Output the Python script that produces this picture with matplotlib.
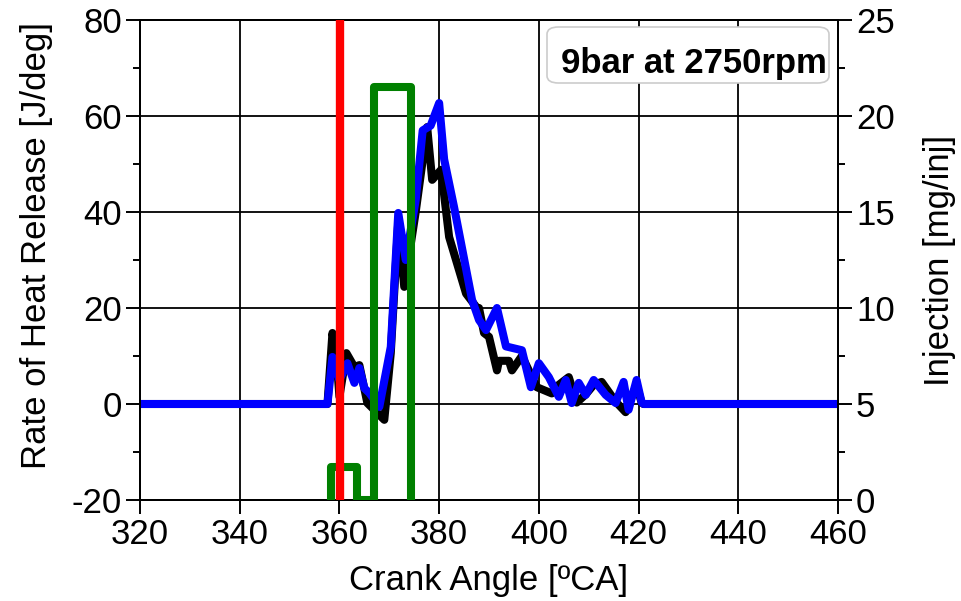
import matplotlib
matplotlib.use("Agg")
import matplotlib.pyplot as plt
from matplotlib.ticker import MultipleLocator
from matplotlib.patches import FancyBboxPatch

plt.rcParams['font.family'] = ['Liberation Sans', 'DejaVu Sans']
plt.rcParams['axes.unicode_minus'] = False

# Rate of heat release - black series (CA, J/deg)
ca_black = [320, 357.6, 358.6, 359.4, 360.0, 361.4, 363.0, 364.0, 365.6, 369.0, 370.3,
            371.8, 373.0, 375.3, 377.6, 378.6, 380.4, 382.0, 385.4, 387.6, 388.0, 389.0,
            390.0, 391.6, 392.0, 394.0, 394.6, 396.6, 399.6, 402.6, 404.0, 406.0, 407.6,
            409.4, 411.0, 412.6, 415.4, 417.4, 419.6, 420.6, 421.0, 460]
rhr_black = [0, 0, 14.8, 9.8, 1.5, 10.6, 7.7, 8.1, 0.2, -3.3, 10.6,
             38.0, 24.4, 40.0, 57.7, 46.7, 48.8, 34.8, 23.0, 20.0, 20.0, 14.8,
             14.0, 7.0, 9.0, 9.0, 7.0, 10.0, 3.5, 2.2, 4.0, 5.6, 0.3,
             2.0, 4.0, 4.6, 0.5, -1.7, 4.0, 0.3, 0, 0]

# Rate of heat release - blue series (CA, J/deg)
ca_blue = [320, 357.6, 358.6, 360.0, 361.6, 363.0, 364.0, 365.0, 366.0, 368.0, 370.3,
           371.8, 373.3, 375.3, 376.7, 378.3, 380.0, 381.0, 383.0, 386.6, 388.0, 389.4,
           391.6, 393.4, 396.6, 398.4, 400.0, 402.0, 404.0, 405.4, 406.6, 408.0, 409.4,
           411.0, 413.4, 415.4, 417.0, 418.0, 419.6, 420.6, 421.0, 460]
rhr_blue = [0, 0, 9.8, 5.0, 8.5, 4.4, 7.5, 3.3, 2.3, -0.6, 11.9,
            39.8, 30.0, 42.5, 57.0, 58.0, 62.7, 51.0, 41.0, 21.7, 17.5, 15.4,
            20.0, 12.0, 11.2, 3.5, 8.5, 5.6, 1.5, 5.0, 0.2, 4.4, 1.9,
            5.0, 1.9, 0.2, 4.6, -1.2, 5.0, 0.4, 0, 0]

# Injection signal (CA, mg/inj)
ca_inj = [358.4, 358.4, 363.6, 363.6, 367.0, 367.0, 374.4, 374.4]
inj = [0, 1.7, 1.7, 0, 0, 21.5, 21.5, 0]

soi_ca = 360.2
label_text = "9bar at 2750rpm"

W, H = 961, 601
fig = plt.figure(figsize=(W/100, H/100), dpi=100)
ax = fig.add_axes([140/W, 1-500/H, (838-140)/W, (500-20)/H])
ax2 = ax.twinx()

lw = 5.8
ax.plot(ca_black, rhr_black, color='black', lw=lw, solid_joinstyle='round', zorder=3)
ax.plot(ca_blue, rhr_blue, color='blue', lw=lw, solid_joinstyle='round', zorder=4)

ax2.plot(ca_inj, inj, color='green', lw=lw, solid_joinstyle='round', zorder=3)
ax2.axvline(soi_ca, color='red', lw=6, zorder=4)

ax.set_xlim(320, 460)
ax.set_ylim(-20, 80)
ax2.set_ylim(0, 25)

ax.xaxis.set_major_locator(MultipleLocator(20))
ax.yaxis.set_major_locator(MultipleLocator(20))
ax.yaxis.set_minor_locator(MultipleLocator(10))
ax2.yaxis.set_major_locator(MultipleLocator(5))
ax2.yaxis.set_minor_locator(MultipleLocator(2.5))

ax.grid(True, which='major', color='black', lw=1.3)
ax.set_axisbelow(True)

fs = 25
ax.tick_params(axis='both', which='major', direction='out', length=10, width=1.4,
               labelsize=fs, colors='black', pad=3)
ax.tick_params(axis='y', which='minor', direction='out', length=5, width=1.4)
ax2.tick_params(axis='y', which='major', direction='out', length=10, width=1.4,
                labelsize=fs, pad=3)
ax2.tick_params(axis='y', which='minor', direction='out', length=5, width=1.4)

for a in (ax, ax2):
    for s in a.spines.values():
        s.set_linewidth(1.4)
        s.set_color('black')

ax.set_xlabel("Crank Angle [ºCA]", fontsize=fs, labelpad=9)
ax.set_ylabel("Rate of Heat Release [J/deg]", fontsize=fs)
ax.yaxis.set_label_coords(-0.125, 0.53)
ax2.set_ylabel("Injection [mg/inj]", fontsize=fs, labelpad=20)

box = FancyBboxPatch((547/W, 1-83/H), 282/W, 56/H,
                     boxstyle='round,pad=0,rounding_size=0.012',
                     transform=fig.transFigure, fc='white', ec='#cccccc', lw=1.2, zorder=9)
fig.patches.append(box)
fig.text(694/W, 1-73/H, label_text, ha='center', va='baseline',
         fontsize=fs, fontweight='bold', zorder=10)

fig.savefig("out.png", dpi=100)
